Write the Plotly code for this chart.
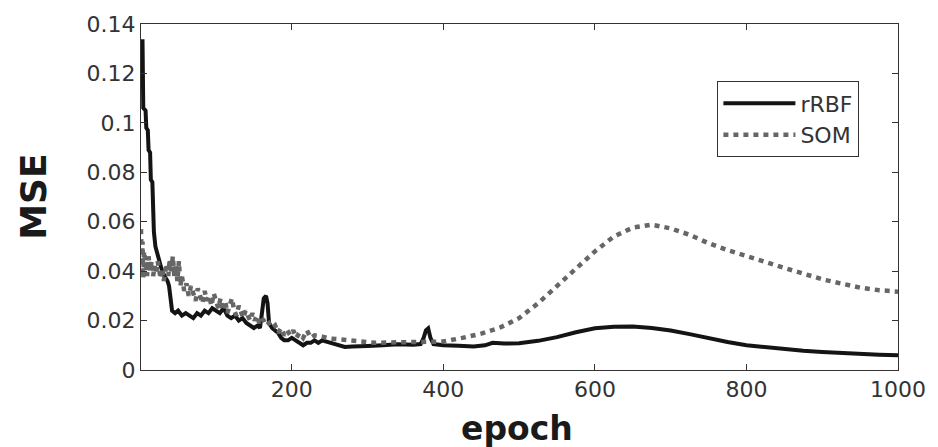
import plotly.graph_objects as go

# rRBF training error
rbf_epoch = [1, 3, 4, 7, 8, 10, 11, 13, 14, 16, 17, 18, 20, 24, 28, 32, 36, 38, 40, 42,
             46, 50, 55, 60, 65, 70, 75, 80, 85, 90, 95, 100, 105, 110, 115, 120, 125, 130,
             135, 140, 145, 150, 155, 158, 161, 163, 166, 168, 170, 174, 178, 182, 186, 190,
             195, 200, 205, 210, 215, 220, 225, 230, 235, 240, 250, 260, 270, 280, 290, 300,
             320, 340, 360, 370, 374, 377, 380, 383, 387, 400, 420, 440, 455, 465, 480, 500,
             525, 550, 575, 600, 625, 650, 675, 700, 725, 750, 775, 800, 825, 850, 875, 900,
             925, 950, 975, 1000]
rbf_mse = [0.133, 0.133, 0.106, 0.105, 0.098, 0.097, 0.089, 0.088, 0.077, 0.076, 0.066, 0.056,
           0.050, 0.045, 0.041, 0.038, 0.036, 0.034, 0.027, 0.024,
           0.023, 0.024, 0.022, 0.023, 0.022, 0.021, 0.023, 0.022, 0.024, 0.023, 0.025, 0.024,
           0.023, 0.025, 0.022, 0.021, 0.022, 0.020, 0.021, 0.019, 0.018, 0.017, 0.018, 0.017,
           0.024, 0.029, 0.030, 0.027, 0.019, 0.017, 0.016, 0.015, 0.013, 0.012,
           0.012, 0.013, 0.012, 0.011, 0.010, 0.011, 0.011, 0.012, 0.011, 0.012, 0.011, 0.0100,
           0.0093, 0.0095, 0.0094, 0.0097, 0.0100, 0.0104, 0.0102, 0.0105, 0.013, 0.016, 0.0168,
           0.013, 0.0105, 0.0100, 0.0098, 0.0095, 0.0100, 0.0110, 0.0107, 0.0108,
           0.0118, 0.0133, 0.0153, 0.0169, 0.0175, 0.0176, 0.0170, 0.0160, 0.0145, 0.0127,
           0.0113, 0.0100, 0.0092, 0.0084, 0.0078, 0.0073, 0.0068, 0.0064, 0.0062, 0.0060]

# SOM training error
som_epoch = [1, 2, 3, 4, 5, 7, 9, 11, 13, 15, 17, 19, 21, 23, 25, 27, 29, 31, 33, 35, 37, 39,
             41, 43, 45, 47, 49, 51, 53, 55, 58, 61, 64, 67, 70, 73, 76, 79, 82, 85, 88, 91,
             94, 97, 100, 103, 106, 109, 112, 115, 118, 121, 124, 127, 130, 133, 136, 139,
             142, 145, 148, 151, 154, 157, 160, 163, 166, 170, 174, 178, 182, 186, 190, 194,
             198, 202, 206, 210, 215, 220, 225, 230, 240, 250, 260, 275, 290, 310, 340, 370,
             400, 425, 450, 475, 500, 525, 550, 575, 600, 625, 650, 675, 700, 725, 750, 775,
             800, 825, 850, 875, 900, 925, 950, 975, 1000]
som_mse = [0.057, 0.040, 0.052, 0.037, 0.048, 0.042, 0.038, 0.046, 0.040, 0.044, 0.038, 0.042,
           0.039, 0.044, 0.040, 0.037, 0.041, 0.036, 0.040, 0.043, 0.038, 0.045,
           0.040, 0.046, 0.038, 0.043, 0.036, 0.044, 0.034, 0.038, 0.032, 0.035, 0.030, 0.034,
           0.031, 0.028, 0.033, 0.030, 0.027, 0.032, 0.028, 0.030,
           0.026, 0.031, 0.027, 0.025, 0.029, 0.024, 0.028, 0.023, 0.026, 0.029, 0.024, 0.022,
           0.026, 0.023, 0.021, 0.024,
           0.022, 0.020, 0.023, 0.020, 0.022, 0.019, 0.021, 0.020, 0.018, 0.019, 0.017, 0.018,
           0.015, 0.017, 0.014, 0.016,
           0.014, 0.016, 0.013, 0.015, 0.013, 0.016, 0.013, 0.014, 0.0135, 0.0127, 0.0125,
           0.0120, 0.0113, 0.0110, 0.0112, 0.0115,
           0.0115, 0.0130, 0.0147, 0.0172, 0.0210, 0.0270, 0.0340, 0.0413, 0.0480, 0.0540,
           0.0576, 0.0588, 0.0573, 0.0547, 0.0513, 0.0485,
           0.0460, 0.0435, 0.0413, 0.0390, 0.0367, 0.0350, 0.0333, 0.0323, 0.0317]

y_ticks = [0, 0.02, 0.04, 0.06, 0.08, 0.1, 0.12, 0.14]
y_labels = ["0", "0.02", "0.04", "0.06", "0.08", "0.1", "0.12", "0.14"]
x_ticks = [200, 400, 600, 800, 1000]

fig = go.Figure()

fig.add_trace(go.Scatter(
    x=rbf_epoch, y=rbf_mse, mode="lines", name="rRBF",
    line=dict(color="#141414", width=4)
))
fig.add_trace(go.Scatter(
    x=som_epoch, y=som_mse, mode="lines", name="SOM",
    line=dict(color="#666666", width=4.5, dash="5px,5px")
))

axis_font = dict(family="DejaVu Sans", size=22, color="#333333")

fig.update_layout(
    width=938,
    height=447,
    margin=dict(l=141, r=36, t=20, b=77),
    plot_bgcolor="white",
    paper_bgcolor="white",
    showlegend=True,
    legend=dict(
        x=0.949, y=0.834, xanchor="right", yanchor="top",
        bordercolor="#333333", borderwidth=1, bgcolor="white",
        font=dict(family="DejaVu Sans", size=22, color="#333333"),
        itemwidth=72, tracegroupgap=0
    ),
    xaxis=dict(
        range=[1, 1000], tickvals=x_ticks, ticks="inside", ticklen=6,
        showline=True, linecolor="#333333", linewidth=1, mirror="ticks",
        showgrid=False, zeroline=False, tickfont=axis_font, tickcolor="#333333"
    ),
    yaxis=dict(
        range=[0, 0.14], tickvals=y_ticks, ticktext=y_labels, ticks="inside", ticklen=6,
        showline=True, linecolor="#333333", linewidth=1, mirror="ticks",
        showgrid=False, zeroline=False, tickfont=axis_font, tickcolor="#333333"
    ),
)

fig.add_annotation(
    text="<b>epoch</b>", xref="paper", yref="paper", x=0.497, y=-0.168,
    showarrow=False, xanchor="center", yanchor="middle",
    font=dict(family="DejaVu Sans", size=33, color="#1a1a1a")
)
fig.add_annotation(
    text="<b>MSE</b>", xref="paper", yref="paper", x=-0.143, y=0.5,
    showarrow=False, xanchor="center", yanchor="middle", textangle=-90,
    font=dict(family="DejaVu Sans", size=36, color="#1a1a1a")
)

# drop the default page margin so the figure sits at the window's corner
fig.write_html("out.html", config={"displayModeBar": False},
               post_script="document.body.style.margin='0';")
